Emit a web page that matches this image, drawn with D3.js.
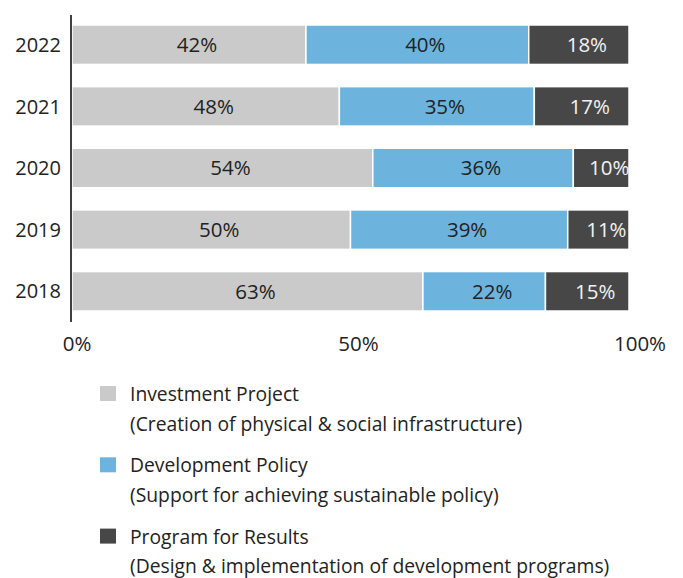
<!DOCTYPE html>
<html lang="en">
<head>
<meta charset="UTF-8">
<title>Financing by type</title>
<script src="https://d3js.org/d3.v7.min.js"></script>
<style>
  body { margin: 0; background: #fff; }
  text { font-family: "Open Sans", "Noto Sans", sans-serif; fill: #222; }
</style>
</head>
<body>
<svg width="683" height="578"></svg>
<script>
// data
const years = ["2022", "2021", "2020", "2019", "2018"];
const investment = [42, 48, 54, 50, 63];
const development = [40, 35, 36, 39, 22];
const results = [18, 17, 10, 11, 15];
const tickValues = [0, 50, 100];
const seriesNames = ["Investment Project", "Development Policy", "Program for Results"];
const seriesNotes = [
  "(Creation of physical & social infrastructure)",
  "(Support for achieving sustainable policy)",
  "(Design & implementation of development programs)"
];
const colors = ["#cacaca", "#6cb4de", "#474747"];

const rows = years.map((y, i) => ({ year: y, vals: [investment[i], development[i], results[i]] }));

const svg = d3.select("svg");

const x = d3.scaleLinear().domain([0, 100]).range([72, 629]);
// tick labels sit a bit right of the gridline positions in the original
const xLabel = d3.scaleLinear().domain([0, 100]).range([77, 640]);
const y = d3.scaleBand().domain(years).range([25, 311]).paddingInner(0.36).paddingOuter(0);

// bars
rows.forEach(r => {
  let acc = 0;
  r.vals.forEach((v, k) => {
    const x0 = acc;
    acc += v;
    svg.append("rect")
      .attr("x", x(x0))
      .attr("y", y(r.year))
      .attr("width", x(acc) - x(x0))
      .attr("height", y.bandwidth())
      .attr("fill", colors[k])
      .attr("stroke", "#fff")
      .attr("stroke-width", 1.5);
    svg.append("text")
      .attr("x", (x(x0) + x(acc)) / 2 + 8)
      .attr("y", y(r.year) + y.bandwidth() / 2)
      .attr("dy", "0.36em")
      .attr("text-anchor", "middle")
      .style("font-size", "20.5px")
      .style("fill", k == 2 ? "#f2f2f2" : "#222")
      .text(v + "%");
  });
});

// year labels
svg.append("g").selectAll("text")
  .data(years)
  .enter().append("text")
  .attr("x", 61)
  .attr("y", d => y(d) + y.bandwidth() / 2)
  .attr("dy", "0.36em")
  .attr("text-anchor", "end")
  .style("font-size", "20px")
  .text(d => d);

// vertical axis line
svg.append("line")
  .attr("x1", 71).attr("x2", 71)
  .attr("y1", 15).attr("y2", 322)
  .attr("stroke", "#000")
  .attr("stroke-width", 1.5);

// x tick labels
svg.append("g").selectAll("text")
  .data(tickValues)
  .enter().append("text")
  .attr("x", d => xLabel(d))
  .attr("y", 351)
  .attr("text-anchor", "middle")
  .style("font-size", "20.5px")
  .text(d => d + "%");

// legend
const legend = svg.append("g").attr("transform", "translate(100,386)");
seriesNames.forEach((name, i) => {
  const g = legend.append("g").attr("transform", "translate(0," + i * 71.3 + ")");
  g.append("rect").attr("width", 16).attr("height", 15).attr("fill", colors[i]);
  g.append("text").attr("x", 30).attr("y", 15).style("font-size", "19.3px").text(name);
  g.append("text").attr("x", 30).attr("y", 44.5).style("font-size", "19.3px").text(seriesNotes[i]);
});
</script>
</body>
</html>
